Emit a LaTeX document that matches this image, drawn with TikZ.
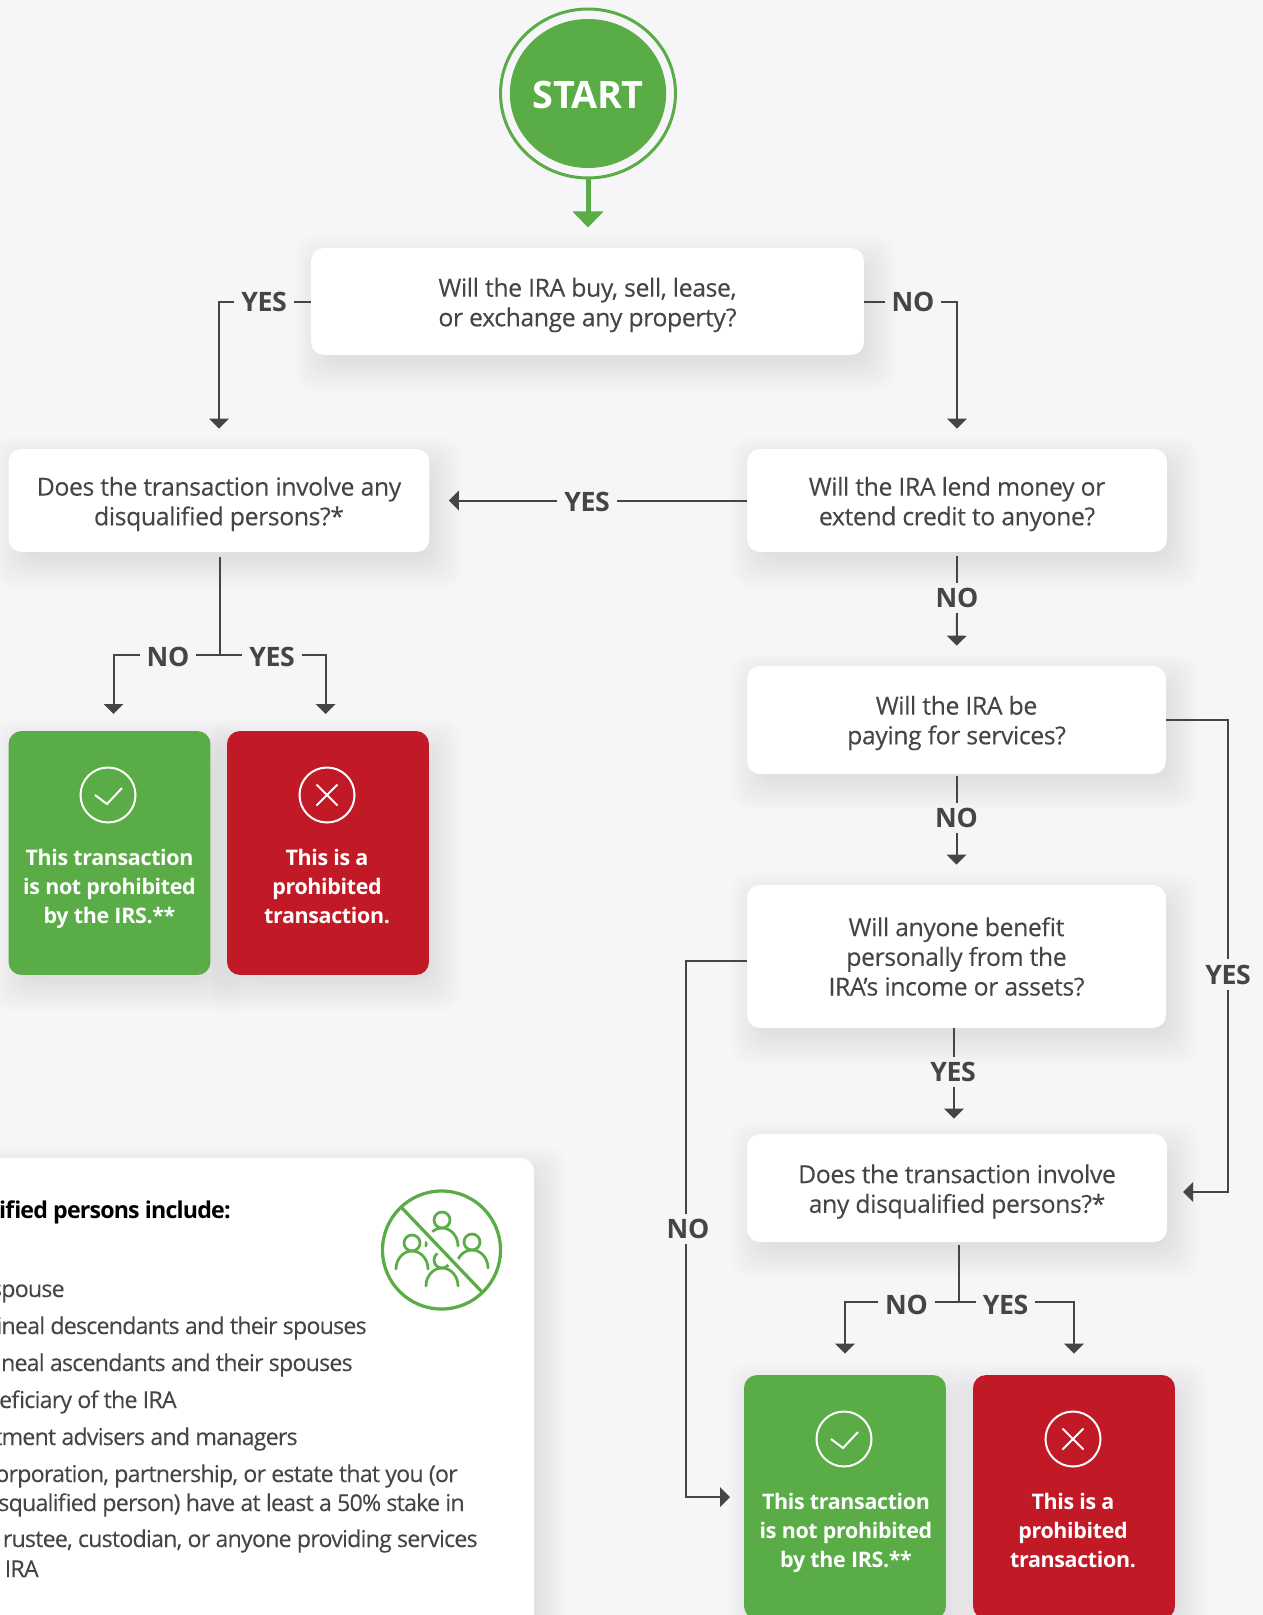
\documentclass[tikz,border=0pt]{standalone}
\usepackage{fontspec}
\setmainfont[LetterSpace=-1.6,UprightFeatures={FakeBold=.12}]{Open Sans}
\usetikzlibrary{arrows.meta,backgrounds,shapes.geometric}
\definecolor{pagebg}{HTML}{F6F6F9}
\definecolor{okgreen}{HTML}{5AAC47}
\definecolor{badred}{HTML}{C21927}
\definecolor{inkgray}{HTML}{454545}
\tikzset{
  qbox/.style={fill=white,rounded corners=.26cm,inner sep=0pt},
  qtext/.style={text=inkgray,align=center,font=\fontsize{14.1}{16.9}\selectfont},
  okbox/.style={fill=okgreen,rounded corners=.26cm,inner sep=0pt,minimum width=4.04cm,minimum height=4.88cm},
  badbox/.style={okbox,fill=badred},
  verdict/.style={text=white,align=center,font=\bfseries\fontsize{12.2}{16.5}\selectfont},
  lbl/.style={text=inkgray,inner xsep=.13cm,inner ysep=.1cm,font=\bfseries\fontsize{15.2}{18}\selectfont},
  link/.style={draw=inkgray,line width=.04cm},
  flow/.style={link,-{Triangle[width=.39cm,length=.2cm]}},
  ring/.style={draw=white,line width=.04cm},
  legendtext/.style={anchor=base east,text=inkgray,inner sep=0pt,
    font=\fontsize{13.2}{16}\selectfont\addfontfeature{LetterSpace=-3.4}}
}
% soft shadow behind a named box
\newcommand{\softshadow}[1]{%
  \begin{pgfonlayer}{background}%
  \foreach \g in {-6,-3,...,24} {%
    \fill[black,opacity=.009,rounded corners=.4cm]
      ([shift={({8-\g},{12+\g})}]#1.south west) rectangle ([shift={({8+\g},{12-\g})}]#1.north east);
  }%
  \end{pgfonlayer}%
}
\begin{document}
\begin{tikzpicture}[x=.02cm,y=-.02cm]
\useasboundingbox (0,0) rectangle (1262,1615);
\begin{pgfonlayer}{background}
\fill[pagebg] (-60,-60) rectangle (1320,1680);
\end{pgfonlayer}

% start
\node[ellipse,draw=okgreen,line width=.06cm,minimum width=3.5cm,minimum height=3.38cm,inner sep=0pt] (startring) at (588,93.5) {};
\node[ellipse,fill=okgreen,text=white,minimum width=3.1cm,minimum height=2.98cm,inner sep=0pt,
  font=\bfseries\fontsize{21.5}{24}\selectfont,execute at begin node={\rule{0pt}{.62cm}}] (start) at (588,93.5) {START};

% question boxes
\node[qbox,minimum width=11.06cm,minimum height=2.14cm] (buy) at (587.5,301.5) {};
\node[qbox,minimum width=8.42cm,minimum height=2.06cm] (dis) at (219,500.5) {};
\node[qbox,minimum width=8.4cm,minimum height=2.06cm] (lend) at (957,500.5) {};
\node[qbox,minimum width=8.38cm,minimum height=2.16cm] (paying) at (956.5,720) {};
\node[qbox,minimum width=8.38cm,minimum height=2.86cm] (benefit) at (956.5,956.5) {};
\node[qbox,minimum width=8.4cm,minimum height=2.16cm] (again) at (957,1188) {};
\node[qtext] (buytext) at (587.5,305) {Will the IRA buy, sell, lease,\\or exchange any property?};
\node[qtext] (distext) at (219,504) {Does the transaction involve any\\disqualified persons?*};
\node[qtext] (lendtext) at (957,504) {Will the IRA lend money or\\extend credit to anyone?};
\node[qtext] (payingtext) at (956.5,723) {Will the IRA be\\paying for services?};
\node[qtext] (benefittext) at (956.5,956.5) {Will anyone benefit\\personally from the\\IRA’s income or assets?};
\node[qtext] (againtext) at (957,1191.5) {Does the transaction involve\\any disqualified persons?*};

% verdict boxes
\node[okbox] (oka) at (109.5,853) {};
\node[badbox] (bada) at (328,853) {};
\node[okbox] (okb) at (845,1497) {};
\node[badbox] (badb) at (1074,1497) {};
\node[verdict] (okatext) at (109.5,888.5) {This transaction\\is not prohibited\\by the IRS.**};
\node[verdict] (badatext) at (327,886.5) {This is a\\prohibited\\transaction.};
\node[verdict] (okbtext) at (846,1532.5) {This transaction\\is not prohibited\\by the IRS.**};
\node[verdict] (badbtext) at (1073,1530.5) {This is a\\prohibited\\transaction.};

% check and cross marks
\foreach \x/\y in {108/795,844/1439} {
  \draw[ring] (\x,\y) circle (27.5);
  \draw[ring] (\x-13,\y) -- (\x-1,\y+9) -- (\x+14,\y-7);
}
\foreach \x/\y in {327/795,1073/1439} {
  \draw[ring] (\x,\y) circle (27.5);
  \draw[ring] (\x-10.5,\y-10.5) -- (\x+10.5,\y+10.5);
  \draw[ring] (\x-10.5,\y+10.5) -- (\x+10.5,\y-10.5);
}

% legend
\node[fill=white,rounded corners=.26cm,minimum width=11.3cm,minimum height=9.8cm,inner sep=0pt] (legend) at (251.5,1403) {};
\node[legendtext,text=black,font=\bfseries\fontsize{13.2}{16}\selectfont\addfontfeature{LetterSpace=-3.6}] (lgdhead) at (231,1218) {ified persons include:};
\node[legendtext] (lgda) at (65,1297) {spouse};
\node[legendtext] (lgdb) at (367,1334) {ineal descendants and their spouses};
\node[legendtext] (lgdc) at (353,1371) {ineal ascendants and their spouses};
\node[legendtext] (lgdd) at (177,1408) {eficiary of the IRA};
\node[legendtext] (lgde) at (298,1445) {tment advisers and managers};
\node[legendtext] (lgdf) at (458,1482) {orporation, partnership, or estate that you (or};
\node[legendtext] (lgdg) at (465,1511) {squalified person) have at least a 50\% stake in};
\node[legendtext] (lgdh) at (478,1547) {rustee, custodian, or anyone providing services};
\node[legendtext] (lgdi) at (39,1577) {IRA};

% legend icon
\foreach \x/\y in {442/1220,412/1243,472/1242,442/1260} {
  \draw[okgreen,line width=.055cm] (\x,\y) circle (8);
  \draw[okgreen,line width=.055cm,line cap=round] (\x-16,\y+26) arc[start angle=180,end angle=360,x radius=16,y radius=18];
}
\draw[white,line width=.22cm] (402,1208) -- (482,1292);
\draw[okgreen,line width=.065cm] (402,1208) -- (482,1292);
\draw[okgreen,line width=.065cm] (441.5,1250) circle (59);

\foreach \boxname in {buy,dis,lend,paying,benefit,again,oka,bada,okb,badb,legend} {
  \softshadow{\boxname}
}

% labels
\node[lbl] (buyyes) at (264,301.5) {YES};
\node[lbl] (buyno) at (913,301.5) {NO};
\node[lbl] (lendyes) at (587,502) {YES};
\node[lbl] (lendno) at (957,598) {NO};
\node[lbl] (payno) at (956.5,818) {NO};
\node[lbl] (payyes) at (1228,974.5) {YES};
\node[lbl] (benyes) at (953,1072) {YES};
\node[lbl] (benno) at (688,1229) {NO};
\node[lbl] (disno) at (168,656.5) {NO};
\node[lbl] (disyes) at (272,656.5) {YES};
\node[lbl] (againno) at (906.5,1305) {NO};
\node[lbl] (againyes) at (1005.5,1305) {YES};

% free ends
\coordinate (dissplit) at (219.5,654.5);
\coordinate (againsplit) at (959,1302);
\coordinate (tipoka) at (113.5,714);
\coordinate (tipbada) at (325.7,714);
\coordinate (tipagain) at (1183,1192);
\coordinate (paycorner) at (1228,720);
\coordinate (benout) at (747,961);
\coordinate (bencorner) at (686,961);
\coordinate (tipokb) at (730,1497);
\coordinate (benfoot) at (954,1028);

% connectors
\draw[okgreen,line width=.1cm,-{Triangle[width=.6cm,length=.32cm]}] (startring.south) -- ++(0,48);
\draw[link] (buy.west) -- (buyyes.east);
\draw[flow,shorten >=.4cm] (buyyes.west) -| (dis.north);
\draw[link] (buy.east) -- (buyno.west);
\draw[flow,shorten >=.4cm] (buyno.east) -| (lend.north);
\draw[link] (lend.west) -- (lendyes.east |- lend.west);
\draw[flow,shorten >=.38cm] (lendyes.west |- dis.east) -- (dis.east);
\draw[link,shorten <=.08cm] (lend.south) -- (lendno.north);
\draw[flow,shorten >=.4cm] (lendno.south) -- (paying.north);
\draw[link,shorten <=.04cm] (paying.south) -- (payno.north);
\draw[flow,shorten >=.4cm] (payno.south) -- (benefit.north);
\draw[link] (paying.east) -- (paycorner) -- (payyes.north);
\draw[flow] (payyes.south) |- (tipagain);
\draw[link] (benfoot) -- (benfoot |- benyes.north);
\draw[flow,shorten >=.3cm] (benfoot |- benyes.south) -- (benfoot |- again.north);
\draw[link] (benout) -- (bencorner) -- (bencorner |- benno.north);
\draw[flow] (bencorner |- benno.south) |- (tipokb);
\draw[link,shorten <=.1cm] (dis.south -| dissplit) -- (dissplit);
\draw[link] (disno.east |- dissplit) -- (disyes.west |- dissplit);
\draw[flow] (disno.west |- dissplit) -| (tipoka);
\draw[flow] (disyes.east |- dissplit) -| (tipbada);
\draw[link,shorten <=.06cm] (again.south -| againsplit) -- (againsplit);
\draw[link] (againno.east |- againsplit) -- (againyes.west |- againsplit);
\draw[flow,shorten >=.42cm] (againno.west |- againsplit) -| (okb.north);
\draw[flow,shorten >=.42cm] (againyes.east |- againsplit) -| (badb.north);
\end{tikzpicture}
\end{document}
